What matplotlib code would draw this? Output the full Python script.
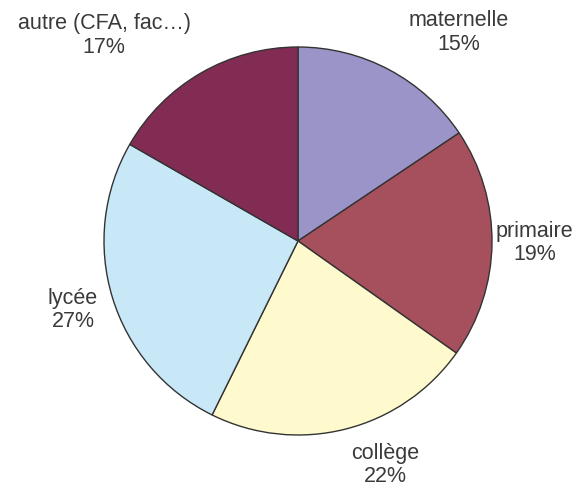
import matplotlib
matplotlib.use("Agg")
import matplotlib.pyplot as plt

categories = ["maternelle", "primaire", "collège", "lycée", "autre (CFA, fac…)"]
shares = [15.6, 19.2, 22.5, 26.0, 16.7]
pct_labels = ["15%", "19%", "22%", "27%", "17%"]
colors = ["#9a94c8", "#a6505e", "#fffacd", "#c8e8f8", "#822c54"]

# position des étiquettes (unités du rayon)
label_pos = [(0.83, 1.075), (1.22, -0.01), (0.45, -1.155), (-1.16, -0.355), (-1.00, 1.06)]

plt.rcParams["font.family"] = ["Liberation Sans", "DejaVu Sans"]

fig = plt.figure(figsize=(5.82, 4.88), dpi=100)
ax = fig.add_axes([0, 0, 1, 1])

r_px = 194.0
cx, cy = 298, 241
ax.pie(shares, colors=colors, startangle=90, counterclock=False,
       wedgeprops=dict(edgecolor="#333333", linewidth=1.0))
ax.set_aspect("auto")
ax.set_xlim(-cx / r_px, (582 - cx) / r_px)
ax.set_ylim(-(488 - cy) / r_px, cy / r_px)
ax.axis("off")

for name, pct, (x, y) in zip(categories, pct_labels, label_pos):
    ax.text(x, y, f"{name}\n{pct}", ha="center", va="center",
            multialignment="center", fontsize=15.5, color="#3a3a3a",
            linespacing=1.15)

fig.savefig("out.png", dpi=100)
